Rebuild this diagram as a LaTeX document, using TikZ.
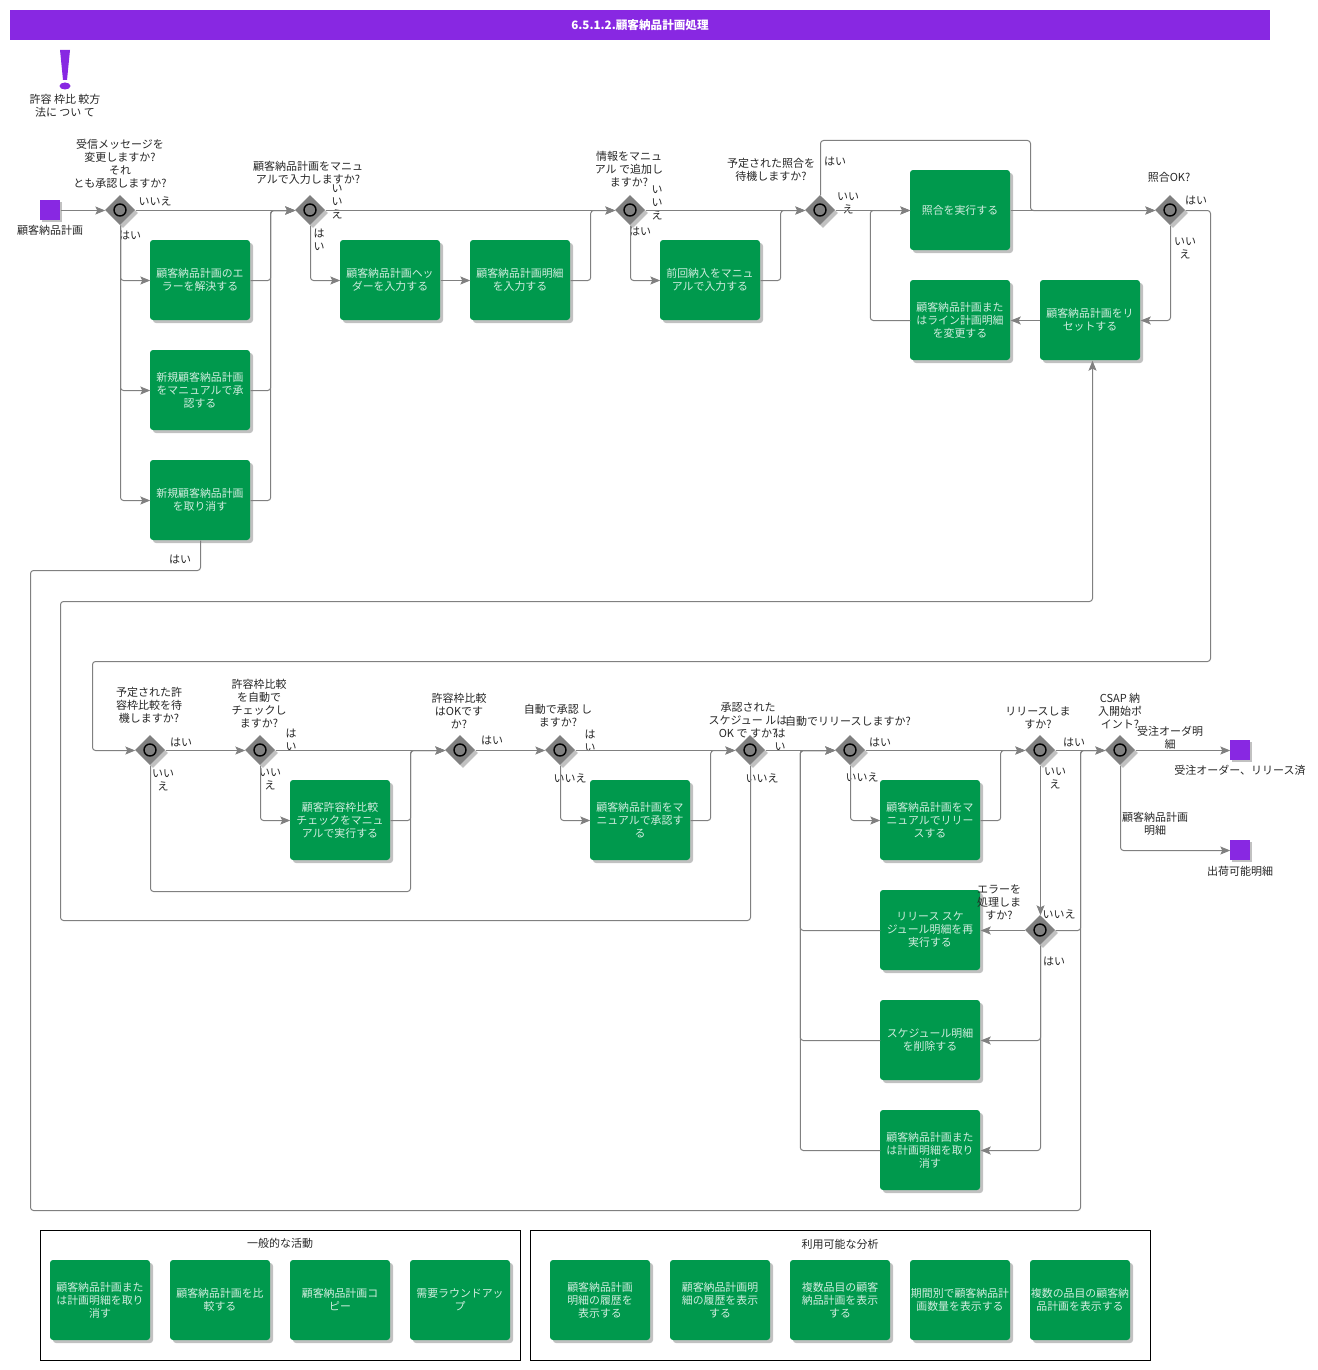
\documentclass[tikz,border=0pt]{standalone}
\usepackage{fontspec}
\setmainfont{Noto Sans CJK JP}
\usepackage{tikz}
\usetikzlibrary{shapes.geometric, arrows.meta, shadows}
\definecolor{titlepurple}{RGB}{136,40,226}
\definecolor{taskgreen}{RGB}{0,153,77}
\definecolor{gategray}{RGB}{128,128,128}
\tikzstyle{task} = [rectangle, rounded corners=3pt, minimum width=100pt, minimum height=80pt, inner sep=0pt, align=center, fill=taskgreen, text=white!82!taskgreen, font=\fontsize{10.9}{13}\selectfont, drop shadow={shadow xshift=3pt, shadow yshift=-3pt, fill=black!35, opacity=.7}]
\tikzstyle{gate} = [diamond, minimum width=30pt, minimum height=30pt, inner sep=0pt, fill=gategray, drop shadow={shadow xshift=3pt, shadow yshift=-3pt, fill=black!35, opacity=.7}]
\tikzstyle{ring} = [circle, minimum size=12pt, inner sep=0pt, line width=1.4pt, draw=black, fill=gategray]
\tikzstyle{sq} = [rectangle, minimum width=20pt, minimum height=20pt, inner sep=0pt, fill=titlepurple, drop shadow={shadow xshift=1.5pt, shadow yshift=-1.5pt, fill=black!35, opacity=.7}]
\tikzstyle{lbl} = [inner sep=0pt, align=center, text=black!85, font=\fontsize{11}{13}\selectfont]
\tikzstyle{arrow} = [draw=gategray, line width=1pt, rounded corners=3pt, transform canvas={xshift=0.5pt, yshift=-0.5pt}, -{Stealth[length=10pt, width=8pt, inset=2pt]}]
\tikzstyle{line} = [draw=gategray, line width=1pt, rounded corners=3pt, transform canvas={xshift=0.5pt, yshift=-0.5pt}]
\tikzstyle{group} = [rectangle, draw=black, line width=1pt, minimum height=130pt, inner sep=0pt]

\begin{document}
\begin{tikzpicture}[x=1pt, y=-1pt, node distance=0pt]
\useasboundingbox (0,0) rectangle (1317,1370);

\node(title)[minimum width=1260pt, minimum height=30pt, inner sep=0pt, fill=titlepurple, text=white, font=\fontsize{11.6}{14}\selectfont\bfseries] at (640,25) {6.5.1.2.顧客納品計画処理};
\fill[titlepurple] (60,50) -- (70,50) -- (67,80) -- (63,80) -- cycle;
\fill[titlepurple] (65,86) ellipse (5.5 and 3.5);
\node(note)[lbl] at (65,106) {許容 枠比 較方\\法に つい て};

% first row
\node(gw1)[gate] at (120,210) {};
\node(start)[sq, left of=gw1, xshift=-70pt] {};
\node(t1)[task, right of=gw1, xshift=80pt, yshift=-70pt] {顧客納品計画のエ\\ラーを解決する};
\node(t2)[task, below of=t1, yshift=-110pt] {新規顧客納品計画\\をマニュアルで承\\認する};
\node(t3)[task, below of=t2, yshift=-110pt] {新規顧客納品計画\\を取り消す};
\node(gw2)[gate, right of=gw1, xshift=190pt] {};
\node(t4)[task, right of=gw2, xshift=80pt, yshift=-70pt] {顧客納品計画ヘッ\\ダーを入力する};
\node(t5)[task, right of=t4, xshift=130pt] {顧客納品計画明細\\を入力する};
\node(gw3)[gate, right of=gw2, xshift=320pt] {};
\node(t6)[task, right of=gw3, xshift=80pt, yshift=-70pt] {前回納入をマニュ\\アルで入力する};
\node(gw4)[gate, right of=gw3, xshift=190pt] {};
\node(t7)[task, right of=gw4, xshift=140pt] {照合を実行する};
\node(t8)[task, below of=t7, yshift=-110pt] {顧客納品計画また\\はライン計画明細\\を変更する};
\node(t9)[task, right of=t8, xshift=130pt] {顧客納品計画をリ\\セットする};
\node(gw5)[gate, right of=gw4, xshift=350pt] {};

% second row
\node(gw6)[gate] at (150,750) {};
\node(gw7)[gate, right of=gw6, xshift=110pt] {};
\node(t10)[task, right of=gw7, xshift=80pt, yshift=-70pt] {顧客許容枠比較\\チェックをマニュ\\アルで実行する};
\node(gw8)[gate, right of=gw7, xshift=200pt] {};
\node(gw9)[gate, right of=gw8, xshift=100pt] {};
\node(t11)[task, right of=gw9, xshift=80pt, yshift=-70pt] {顧客納品計画をマ\\ニュアルで承認す\\る};
\node(gw10)[gate, right of=gw9, xshift=190pt] {};
\node(gw11)[gate, right of=gw10, xshift=100pt] {};
\node(t12)[task, right of=gw11, xshift=80pt, yshift=-70pt] {顧客納品計画をマ\\ニュアルでリリー\\スする};
\node(gw12)[gate, right of=gw11, xshift=190pt] {};
\node(gw13)[gate, right of=gw12, xshift=80pt] {};
\node(end1)[sq, right of=gw13, xshift=120pt] {};
\node(end2)[sq, below of=end1, yshift=-100pt] {};
\node(gw14)[gate, below of=gw12, yshift=-180pt] {};
\node(t13)[task, left of=gw14, xshift=-110pt] {リリース スケ\\ジュール明細を再\\実行する};
\node(t14)[task, below of=t13, yshift=-110pt] {スケジュール明細\\を削除する};
\node(t15)[task, below of=t14, yshift=-110pt] {顧客納品計画また\\は計画明細を取り\\消す};

% rings of the gateways
\foreach \g in {gw1,gw2,gw3,gw4,gw5,gw6,gw7,gw8,gw9,gw10,gw11,gw12,gw13,gw14}
  \node(ring\g)[ring] at (\g) {};

% bottom groups
\node(group1)[group, minimum width=480pt] at (280.5,1295) {};
\node(group1t)[lbl] at (280,1243) {一般的な活動};
\node(b1)[task] at (100,1300) {顧客納品計画また\\は計画明細を取り\\消す};
\node(b2)[task, right of=b1, xshift=120pt] {顧客納品計画を比\\較する};
\node(b3)[task, right of=b2, xshift=120pt] {顧客納品計画コ\\ピー};
\node(b4)[task, right of=b3, xshift=120pt] {需要ラウンドアッ\\プ};
\node(group2)[group, minimum width=620pt] at (840.5,1295) {};
\node(group2t)[lbl] at (840,1244) {利用可能な分析};
\node(c1)[task] at (600,1300) {顧客納品計画\\明細の履歴を\\表示する};
\node(c2)[task, right of=c1, xshift=120pt] {顧客納品計画明\\細の履歴を表示\\する};
\node(c3)[task, right of=c2, xshift=120pt] {複数品目の顧客\\納品計画を表示\\する};
\node(c4)[task, right of=c3, xshift=120pt] {期間別で顧客納品計\\画数量を表示する};
\node(c5)[task, right of=c4, xshift=120pt] {複数の品目の顧客納\\品計画を表示する};

% texts of first row
\node(startl)[lbl, below of=start, yshift=-20pt] {顧客納品計画};
\node(q1)[lbl, above of=gw1, yshift=46pt] {受信メッセージを\\変更しますか?\\それ\\とも承認しますか?};
\node(no1)[lbl, right of=gw1, xshift=35pt, yshift=9pt] {いいえ};
\node(yes1)[lbl, right of=gw1, xshift=10pt, yshift=-25pt] {はい};
\node(q2)[lbl, above of=gw2, xshift=-2pt, yshift=37pt] {顧客納品計画をマニュ\\アルで入力しますか?};
\node(no2)[lbl, right of=gw2, xshift=27pt, yshift=8pt] {い\\い\\え};
\node(yes2)[lbl, right of=gw2, xshift=9pt, yshift=-30pt] {は\\い};
\node(q3)[lbl, above of=gw3, xshift=-1pt, yshift=41pt] {情報をマニュ\\アル で追加し\\ますか?};
\node(no3)[lbl, right of=gw3, xshift=27pt, yshift=7pt] {い\\い\\え};
\node(yes3)[lbl, right of=gw3, xshift=10pt, yshift=-21pt] {はい};
\node(q4)[lbl, left of=gw4, xshift=-49pt, yshift=40pt] {予定された照合を\\待機しますか?};
\node(yes4)[lbl, right of=gw4, xshift=15pt, yshift=49pt] {はい};
\node(no4)[lbl, right of=gw4, xshift=28pt, yshift=7pt] {いい\\え};
\node(q5)[lbl, above of=gw5, xshift=-1pt, yshift=33pt] {照合OK?};
\node(yes5)[lbl, right of=gw5, xshift=26pt, yshift=10pt] {はい};
\node(no5)[lbl, right of=gw5, xshift=15pt, yshift=-38pt] {いい\\え};
\node(yes6)[lbl, left of=t3, xshift=-20pt, yshift=-59pt] {はい};

% texts of second row
\node(q6)[lbl, above of=gw6, xshift=-1pt, yshift=45pt] {予定された許\\容枠比較を待\\機しますか?};
\node(yes7)[lbl, right of=gw6, xshift=31pt, yshift=8pt] {はい};
\node(no7)[lbl, right of=gw6, xshift=13pt, yshift=-30pt] {いい\\え};
\node(q7)[lbl, above of=gw7, xshift=-1pt, yshift=46pt] {許容枠比較\\を自動で\\チェックし\\ますか?};
\node(yes8)[lbl, right of=gw7, xshift=31pt, yshift=10pt] {は\\い};
\node(no8)[lbl, right of=gw7, xshift=10pt, yshift=-29pt] {いい\\え};
\node(q8)[lbl, above of=gw8, xshift=-1pt, yshift=39pt] {許容枠比較\\はOKです\\か?};
\node(yes9)[lbl, right of=gw8, xshift=32pt, yshift=10pt] {はい};
\node(q9)[lbl, above of=gw9, xshift=-2pt, yshift=34pt] {自動で承認 し\\ますか?};
\node(yes10)[lbl, right of=gw9, xshift=30pt, yshift=9pt] {は\\い};
\node(no10)[lbl, right of=gw9, xshift=10pt, yshift=-28pt] {いいえ};
\node(q10)[lbl, above of=gw10, xshift=-2pt, yshift=30pt] {承認された\\スケジュー ルは\\OK で すか?};
\node(yes11)[lbl, right of=gw10, xshift=30pt, yshift=10pt] {は\\い};
\node(no11)[lbl, right of=gw10, xshift=12pt, yshift=-28pt] {いいえ};
\node(q11)[lbl, above of=gw11, xshift=-2pt, yshift=29pt] {自動でリリースしますか?};
\node(yes12)[lbl, right of=gw11, xshift=30pt, yshift=8pt] {はい};
\node(no12)[lbl, right of=gw11, xshift=12pt, yshift=-27pt] {いいえ};
\node(q12)[lbl, above of=gw12, xshift=-2pt, yshift=32pt] {リリースしま\\すか?};
\node(yes13)[lbl, right of=gw12, xshift=34pt, yshift=8pt] {はい};
\node(no13)[lbl, right of=gw12, xshift=15pt, yshift=-28pt] {いい\\え};
\node(q13)[lbl, above of=gw13, yshift=39pt] {CSAP 納\\入開始ポ\\イント?};
\node(out1)[lbl, right of=gw13, xshift=50pt, yshift=12pt] {受注オーダ明\\細};
\node(end1l)[lbl, below of=end1, yshift=-20pt] {受注オーダー、リリース済};
\node(out2)[lbl, right of=gw13, xshift=35pt, yshift=-74pt] {顧客納品計画\\明細};
\node(end2l)[lbl, below of=end2, yshift=-21pt] {出荷可能明細};
\node(q14)[lbl, left of=gw14, xshift=-41pt, yshift=28pt] {エラーを\\処理しま\\すか?};
\node(no14)[lbl, right of=gw14, xshift=19pt, yshift=16pt] {いいえ};
\node(yes14)[lbl, right of=gw14, xshift=14pt, yshift=-31pt] {はい};

% free ends of the long lines
\coordinate (r1) at (1210,661);
\coordinate (r2) at (92,661);
\coordinate (r3) at (30,570);
\coordinate (r4) at (1080,1210);
\coordinate (r5) at (60,920);
\coordinate (r6) at (1092,601);
\coordinate (r7) at (1030,140);
\coordinate (r8) at (410,891);

% connectors of first row
\draw[arrow] (start.east) -- (gw1.west);
\draw[arrow] (gw1.east) -- (gw2.west);
\draw[arrow] (gw1.south) |- (t1.west);
\draw[arrow] (gw1.south) |- (t2.west);
\draw[arrow] (gw1.south) |- (t3.west);
\draw[arrow] (t1.east) -- ++(20,0) |- (gw2.west);
\draw[arrow] (t2.east) -- ++(20,0) |- (gw2.west);
\draw[arrow] (t3.east) -- ++(20,0) |- (gw2.west);
\draw[arrow] (gw2.east) -- (gw3.west);
\draw[arrow] (gw2.south) |- (t4.west);
\draw[arrow] (t4.east) -- (t5.west);
\draw[arrow] (t5.east) -- ++(20,0) |- (gw3.west);
\draw[arrow] (gw3.east) -- (gw4.west);
\draw[arrow] (gw3.south) |- (t6.west);
\draw[arrow] (t6.east) -- ++(20,0) |- (gw4.west);
\draw[arrow] (gw4.east) -- (t7.west);
\draw[arrow] (gw4.north) |- (r7) |- (gw5.west);
\draw[arrow] (t7.east) -- (gw5.west);
\draw[arrow] (gw5.south) |- (t9.east);
\draw[arrow] (t9.west) -- (t8.east);
\draw[arrow] (t8.west) -- ++(-40,0) |- (t7.west);
\draw[arrow] (gw5.east) -| (r1) -- (r2) |- (gw6.west);
\draw[arrow] (t3.south) |- (r3) |- (r4) |- (gw13.west);

% connectors of second row
\draw[arrow] (gw6.east) -- (gw7.west);
\draw[arrow] (gw6.south) |- (r8) |- (gw8.west);
\draw[arrow] (gw7.east) -- (gw8.west);
\draw[arrow] (gw7.south) |- (t10.west);
\draw[arrow] (t10.east) -- ++(20,0) |- (gw8.west);
\draw[arrow] (gw8.east) -- (gw9.west);
\draw[arrow] (gw9.east) -- (gw10.west);
\draw[arrow] (gw9.south) |- (t11.west);
\draw[arrow] (t11.east) -- ++(20,0) |- (gw10.west);
\draw[arrow] (gw10.east) -- (gw11.west);
\draw[arrow] (gw10.south) |- (r5) |- (r6) -- ([xshift=2pt]t9.south);
\draw[arrow] (gw11.east) -- (gw12.west);
\draw[arrow] (gw11.south) |- (t12.west);
\draw[arrow] (t12.east) -- ++(20,0) |- (gw12.west);
\draw[arrow] (gw12.east) -- (gw13.west);
\draw[arrow] (gw13.east) -- (end1.west);
\draw[arrow] (gw13.south) |- (end2.west);
\draw[arrow] (gw12.south) -- (gw14.north);
\draw[arrow] (gw14.west) -- (t13.east);
\draw[arrow] (gw14.south) |- (t14.east);
\draw[arrow] (gw14.south) |- (t15.east);
\draw[line] (gw14.east) -- ++(25,0) |- (gw13.west);
\draw[arrow] (t13.west) -- ++(-80,0) |- (gw11.west);
\draw[arrow] (t14.west) -- ++(-80,0) |- (gw11.west);
\draw[arrow] (t15.west) -- ++(-80,0) |- (gw11.west);
\end{tikzpicture}
\end{document}
